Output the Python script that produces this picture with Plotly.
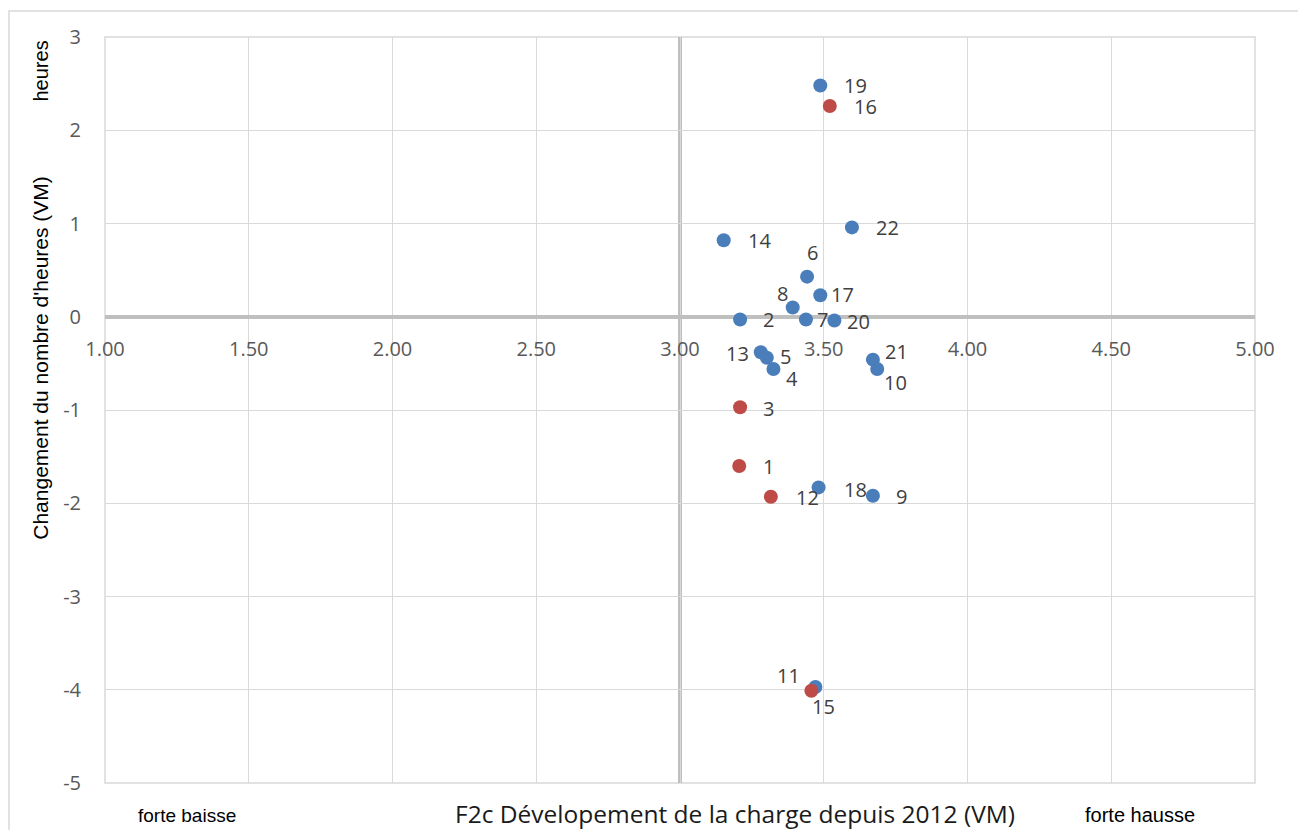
import plotly.graph_objects as go

# ---- data ----
blue_ids = ["19", "22", "14", "6", "17", "8", "2", "7", "20", "13", "5", "4", "21", "10", "18", "9", "11"]
blue_x = [3.488, 3.598, 3.152, 3.442, 3.488, 3.392, 3.209, 3.438, 3.537, 3.281, 3.302, 3.325, 3.671, 3.686, 3.482, 3.671, 3.471]
blue_y = [2.48, 0.958, 0.82, 0.43, 0.23, 0.10, -0.03, -0.03, -0.04, -0.38, -0.44, -0.56, -0.46, -0.56, -1.83, -1.92, -3.97]

red_ids = ["16", "3", "1", "12", "15"]
red_x = [3.521, 3.209, 3.206, 3.316, 3.457]
red_y = [2.26, -0.97, -1.60, -1.93, -4.01]

x_ticks = [1.0, 1.5, 2.0, 2.5, 3.0, 3.5, 4.0, 4.5, 5.0]
x_tick_labels = ["1.00", "1.50", "2.00", "2.50", "3.00", "3.50", "4.00", "4.50", "5.00"]
y_ticks = [3, 2, 1, 0, -1, -2, -3, -4, -5]
y_tick_labels = ["3", "2", "1", "0", "-1", "-2", "-3", "-4", "-5"]

x_cross = 3.0  # value where the vertical axis crosses

# label placement styles: (xanchor, xshift, yshift)
label_style = {
    "19": ("left", 22, 0), "16": ("left", 22, 0), "22": ("left", 22, 0), "14": ("left", 22, 0),
    "6": ("center", 5, 24), "17": ("left", 9, 1), "8": ("right", -3, 14), "2": ("left", 21, 0),
    "7": ("left", 9, 0), "20": ("left", 11, -1), "13": ("right", -10, -1), "5": ("left", 11, 1),
    "4": ("left", 11, -10), "21": ("left", 10, 8), "10": ("left", 5, -14), "3": ("left", 21, -1),
    "1": ("left", 22, -1), "12": ("left", 23, -1), "18": ("left", 23, -2), "9": ("left", 21, -1),
    "11": ("right", -13, 11), "15": ("center", 12, -16),
}

BLUE = "#4a7ebb"
RED = "#be4b48"
GRID = "#d9d9d9"
AXIS = "#bfbfbf"
TICKC = "#595959"
LABC = "#404040"
FONT = "Open Sans"

fig = go.Figure()
fig.add_trace(go.Scatter(x=blue_x, y=blue_y, mode="markers",
                         marker=dict(color=BLUE, size=14), hoverinfo="skip", showlegend=False))
fig.add_trace(go.Scatter(x=red_x, y=red_y, mode="markers",
                         marker=dict(color=RED, size=14), hoverinfo="skip", showlegend=False))

annotations = []
for ids, xs, ys in ((blue_ids, blue_x, blue_y), (red_ids, red_x, red_y)):
    for i, xv, yv in zip(ids, xs, ys):
        xa, xs_, ys_ = label_style[i]
        annotations.append(dict(x=xv, y=yv, xref="x", yref="y", text=i, showarrow=False,
                                xanchor=xa, yanchor="middle", xshift=xs_, yshift=ys_,
                                font=dict(family=FONT, size=20, color=LABC)))

# axis titles / side labels
annotations += [
    dict(x=-0.0557, y=0.57, xref="paper", yref="paper", text="Changement du nombre d'heures (VM)",
         textangle=-90, showarrow=False, xanchor="center", yanchor="middle",
         font=dict(family="Liberation Sans", size=21, color="#000000")),
    dict(x=-0.0557, y=0.955, xref="paper", yref="paper", text="heures",
         textangle=-90, showarrow=False, xanchor="center", yanchor="middle",
         font=dict(family="Liberation Sans", size=20, color="#000000")),
    dict(x=0.0713, y=-0.0429, xref="paper", yref="paper", text="forte baisse", showarrow=False,
         xanchor="center", yanchor="middle", font=dict(family="Liberation Sans", size=19, color="#000000")),
    dict(x=0.9, y=-0.0429, xref="paper", yref="paper", text="forte hausse", showarrow=False,
         xanchor="center", yanchor="middle", font=dict(family="Liberation Sans", size=20, color="#000000")),
    dict(x=0.548, y=-0.0405, xref="paper", yref="paper",
         text="F2c Dévelopement de la charge depuis 2012 (VM)", showarrow=False,
         xanchor="center", yanchor="middle", font=dict(family=FONT, size=24.5, color="#1a1a1a")),
]

shapes = [
    # outer chart border
    dict(type="rect", xref="paper", yref="paper", x0=-0.0835, x1=1.06, y0=-0.09, y1=1.0349,
         line=dict(color=GRID, width=1.5), layer="below"),
    # plot-area border
    dict(type="rect", xref="paper", yref="paper", x0=0, x1=1, y0=0, y1=1,
         line=dict(color=GRID, width=1.5), layer="below"),
    # vertical axis crossing line
    dict(type="line", xref="x", yref="paper", x0=x_cross, x1=x_cross, y0=0, y1=1,
         line=dict(color=AXIS, width=4), layer="below"),
]

y0_pos = (0 - min(y_ticks)) / (max(y_ticks) - min(y_ticks))

fig.update_layout(
    width=1298, height=830,
    margin=dict(l=105, r=43, t=37, b=47),
    paper_bgcolor="white", plot_bgcolor="white",
    xaxis=dict(range=[1, 5], tickvals=x_ticks, ticktext=x_tick_labels,
               showgrid=True, gridcolor=GRID, gridwidth=1.3,
               zeroline=False, showline=False, ticks="",
               anchor="free", position=y0_pos, ticklabelstandoff=18,
               tickfont=dict(family=FONT, size=20, color=TICKC)),
    yaxis=dict(range=[-5, 3], tickvals=y_ticks, ticktext=y_tick_labels,
               showgrid=True, gridcolor=GRID, gridwidth=1.3,
               zeroline=True, zerolinecolor=AXIS, zerolinewidth=4,
               showline=False, ticks="", ticklabelstandoff=23,
               tickfont=dict(family=FONT, size=20, color=TICKC)),
    annotations=annotations,
    shapes=shapes,
)

fig.write_html("out.html", config={"displayModeBar": False},
               post_script="document.body.style.margin='0';document.body.style.overflow='hidden';")
